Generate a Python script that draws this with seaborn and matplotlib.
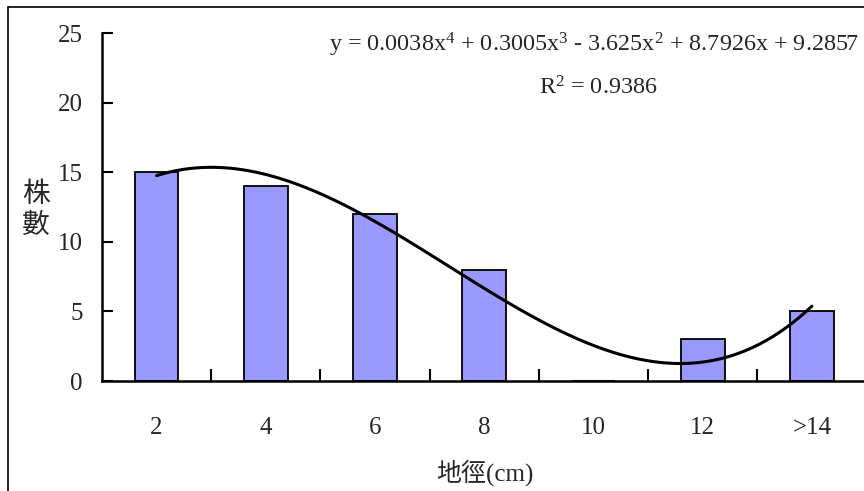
import numpy as np
import pandas as pd
import seaborn as sns
import matplotlib
matplotlib.use("Agg")
import matplotlib.pyplot as plt
from matplotlib.patches import Rectangle
from matplotlib.ticker import FixedLocator

# data
categories = ["2", "4", "6", "8", "10", "12", ">14"]
counts = [15, 14, 12, 8, 0, 3, 5]
eq_text = "y = 0.0038x$^{4}$ + 0.3005x$^{3}$ - 3.625x$^{2}$ + 8.7926x + 9.2857"
r2_text = "R$^{2}$ = 0.9386"

sns.set_theme(style="white")
plt.rcParams["font.family"] = ["Liberation Serif", "Noto Sans CJK TC"]
plt.rcParams["mathtext.fontset"] = "custom"
plt.rcParams["mathtext.rm"] = "Liberation Serif"
plt.rcParams["mathtext.it"] = "Liberation Serif:italic"
plt.rcParams["mathtext.default"] = "regular"

df = pd.DataFrame({"cat": categories, "n": counts})
df["pos"] = np.arange(len(df))

fig = plt.figure(figsize=(8.64, 4.91), dpi=100)
ax = fig.add_axes([102 / 864, 1 - 381 / 491, 764.5 / 864, 348 / 491])

sns.barplot(data=df, x="cat", y="n", color="#9999FF", saturation=1,
            width=0.4, edgecolor="black", linewidth=1.3, ax=ax)
# 4th order polynomial trendline
sns.regplot(data=df, x="pos", y="n", order=4, ci=None, scatter=False,
            truncate=True, line_kws=dict(color="black", lw=2.2), ax=ax)

ax.set_xlim(-0.5, 6.5)
ax.set_ylim(0, 25)
ax.set_yticks([0, 5, 10, 15, 20, 25])
ax.set_xticks(range(len(categories)))
ax.set_xticklabels(categories)
ax.xaxis.set_minor_locator(FixedLocator(np.arange(0.5, 6, 1)))
ax.tick_params(axis="x", which="major", length=0, pad=26, labelsize=18)
ax.tick_params(axis="x", which="minor", direction="in", length=9, width=1.5,
               color="black", bottom=True)
ax.tick_params(axis="y", direction="in", length=8, width=1.5, color="black",
               left=True, pad=14, labelsize=18)

sns.despine(ax=ax)
for s in ["left", "bottom"]:
    ax.spines[s].set_color("black")
    ax.spines[s].set_linewidth(1.8)
    ax.spines[s].set_zorder(5)

ax.set_xlabel("地徑(cm)", fontsize=18)
ax.xaxis.set_label_coords((485 - 102) / 764.5, (381 - 473) / 348)
ax.xaxis.label.set_va("center")
ax.set_ylabel("株\n數", rotation=0, fontsize=20, linespacing=1.3)
ax.yaxis.set_label_coords((36 - 102) / 764.5, (381 - 211) / 348)
ax.yaxis.label.set_va("center")
ax.yaxis.label.set_ha("center")

fig.text(594 / 864, 1 - 45 / 491, eq_text, ha="center", va="center", fontsize=17.4)
fig.text(598 / 864, 1 - 88 / 491, r2_text, ha="center", va="center", fontsize=17.4)

fig.patches.append(Rectangle((8 / 864, -0.05), 1.0, 1.05 - 7 / 491,
                             transform=fig.transFigure, fill=False,
                             ec="black", lw=1.2))

fig.savefig("out.png", dpi=100)
